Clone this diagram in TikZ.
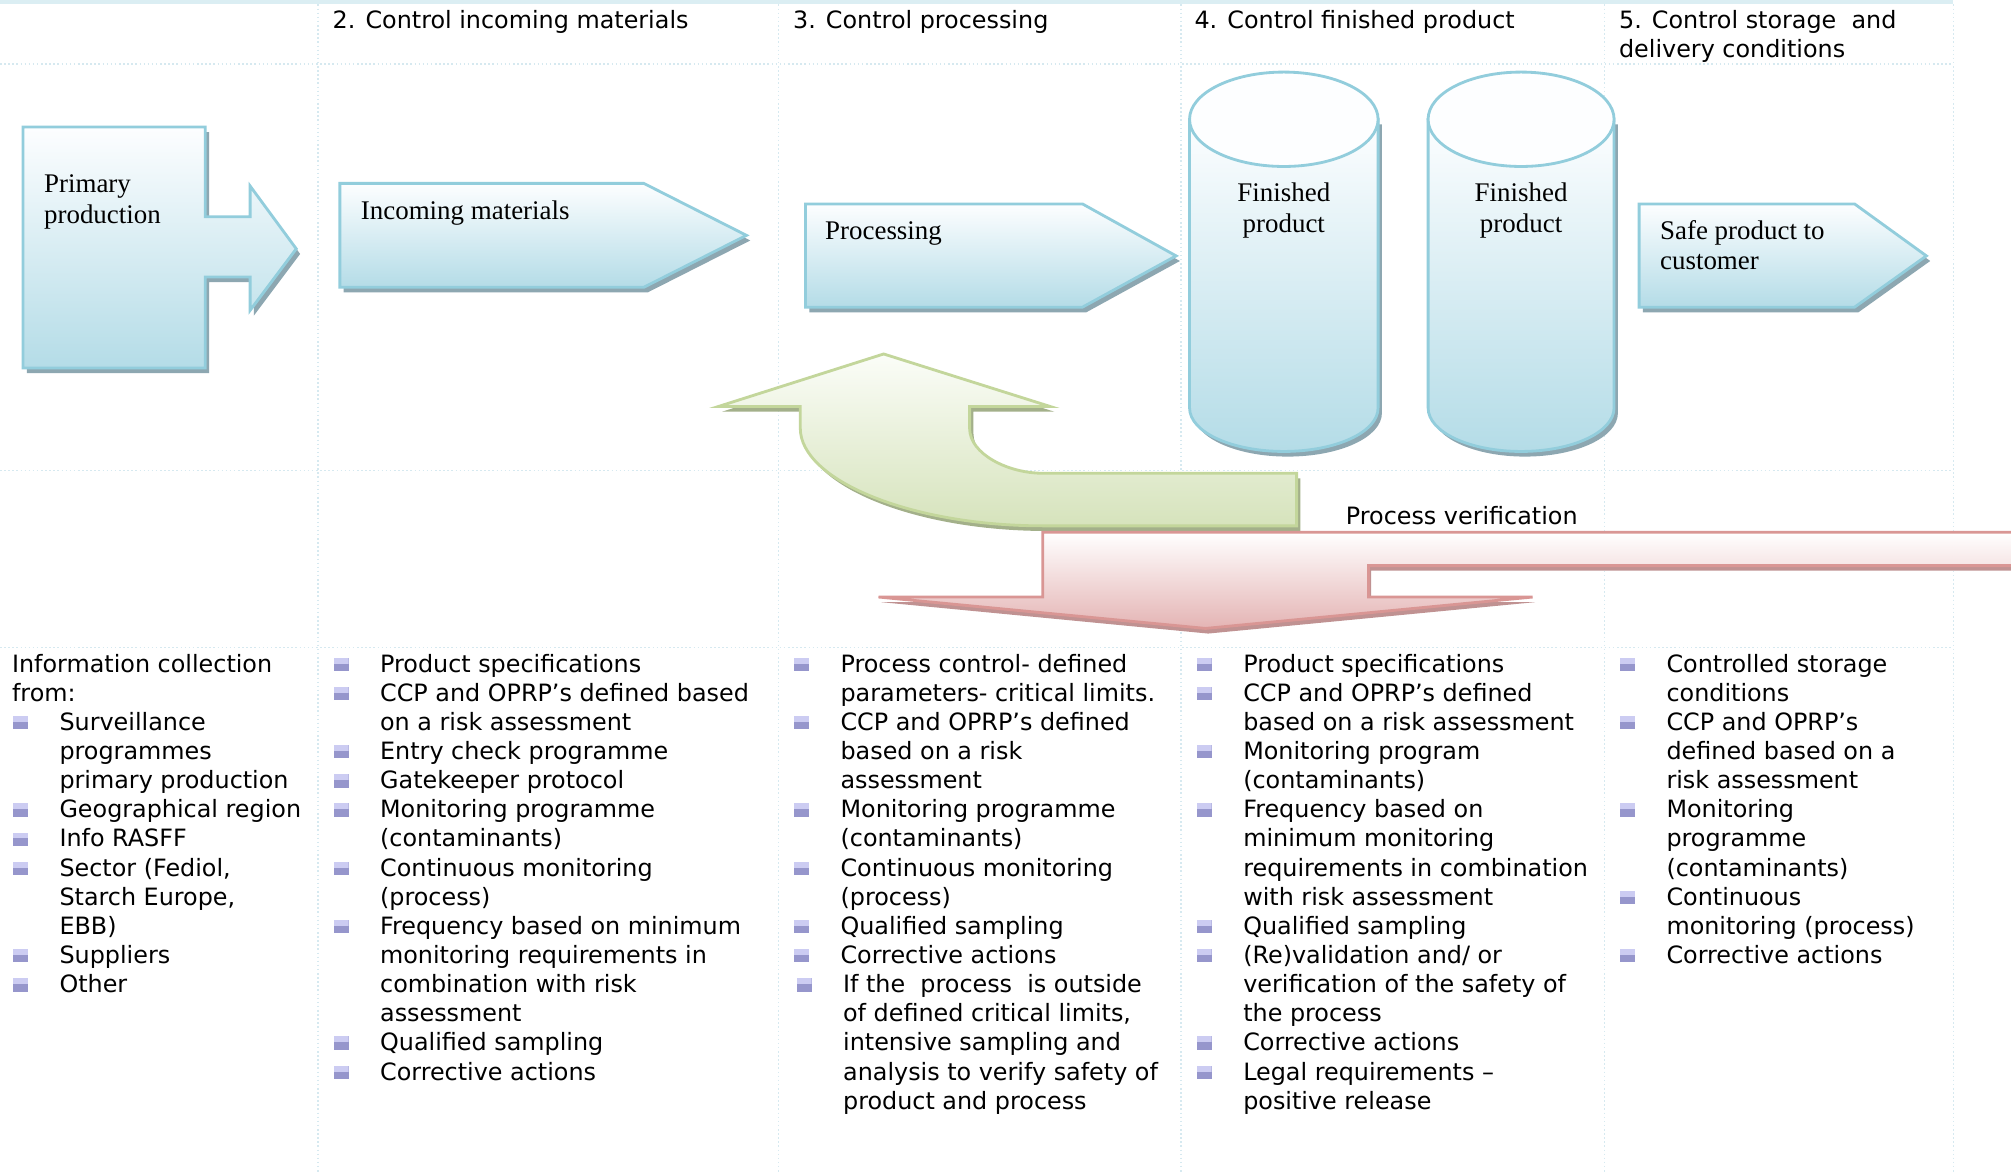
\documentclass[tikz,border=0pt]{standalone}
\usepackage{fontspec}
\setmainfont{Liberation Serif}
\setsansfont{DejaVu Sans}
\definecolor{bbord}{RGB}{146,205,220}
\definecolor{bfillT}{RGB}{253,254,255}
\definecolor{bfillB}{RGB}{180,220,231}
\definecolor{bshadow}{RGB}{141,167,177}
\definecolor{gbord}{RGB}{195,214,155}
\definecolor{gfillT}{RGB}{251,253,248}
\definecolor{gfillB}{RGB}{214,227,188}
\definecolor{gshadow}{RGB}{163,176,138}
\definecolor{rbord}{RGB}{217,150,148}
\definecolor{rfillB}{RGB}{228,180,180}
\definecolor{rshadow}{RGB}{192,146,146}
\definecolor{gridc}{RGB}{214,233,240}
\definecolor{topband}{RGB}{219,238,243}
\definecolor{bulT}{RGB}{204,204,242}
\definecolor{bulB}{RGB}{150,150,204}
\newcommand\colitems[5]{% x, name, start line, list, bullet lines
  \foreach \t [count=\i] in {#4}{%
    \pgfmathsetmacro\ln{\i+#3-1}%
    \node[lst] (#2-\i) at (#1,{524+22.72*(\ln-1)}) {\t};}%
  \foreach \j in {#5}{\node[bul] (#2-b\j) at ({#1-30},{518+22.72*(\j-1)}) {};}}
\newcommand\cylinder[3]{% cx, rx, name
  \fill[bshadow,shift={(3,4)}] ({#1-#2},93) -- ({#1-#2},318) .. controls ({#1-#2},337) and ({#1-0.552*#2},352) .. (#1,352) .. controls ({#1+0.552*#2},352) and ({#1+#2},337) .. ({#1+#2},318) -- ({#1+#2},93) -- cycle;
  \draw[bshape] ({#1-#2},93) -- ({#1-#2},318) .. controls ({#1-#2},337) and ({#1-0.552*#2},352) .. (#1,352) .. controls ({#1+0.552*#2},352) and ({#1+#2},337) .. ({#1+#2},318) -- ({#1+#2},93) -- cycle;
  \draw[draw=bbord,line width=1.1pt,fill=bfillT] (#1,93) ellipse [x radius={#2*0.5pt}, y radius=18.4pt];
  \node[ser,anchor=base] (#3a) at (#1,157) {Finished};
  \node[ser,anchor=base] (#3b) at (#1,181.5) {product};}
\begin{document}
\begin{tikzpicture}[x=0.5pt,y=-0.5pt,
  gridl/.style={draw=gridc,line width=0.6pt,densely dotted},
  lst/.style={font=\sffamily\fontsize{9.3}{11}\selectfont,anchor=base west,inner sep=0pt},
  ser/.style={font=\rmfamily\fontsize{10.5}{12}\selectfont,anchor=base west,inner sep=0pt},
  bul/.style={inner sep=0pt,minimum width=5.8pt,minimum height=5.2pt,fill=bulB,
    path picture={\fill[bulT] (path picture bounding box.north west) rectangle ([yshift=-2.3pt]path picture bounding box.north east);}},
  bshape/.style={draw=bbord,line width=1.1pt,top color=bfillT,bottom color=bfillB,line join=miter},
  gshape/.style={draw=gbord,line width=1.1pt,top color=gfillT,bottom color=gfillB,line join=miter},
  rshape/.style={draw=rbord,line width=1.1pt,top color=white,bottom color=rfillB,line join=miter}]
\useasboundingbox (0,0) rectangle (1568,915);
\fill[white] (0,0) rectangle (1568,915);
% grid
\fill[topband] (0,0) rectangle (1523,3.5);
\foreach \x in {248,607,921,1251,1523} \draw[gridl] (\x,3.5) -- (\x,915);
\foreach \y in {50,367,505} \draw[gridl] (0,\y) -- (1523,\y);
% headers
\node[lst] (h2) at (259,22) {2. Control incoming materials};
\node[lst] (h3) at (618,22) {3. Control processing};
\node[lst] (h4) at (931,22) {4. Control finished product};
\node[lst] (h5a) at (1262,22) {5. Control storage\ \ and};
\node[lst] (h5b) at (1262,44.5) {delivery conditions};
% primary production
\def\PPpath{(18,99) -- (160,99) -- (160,169) -- (195,169) -- (195,145) -- (231,194) -- (195,242) -- (195,216) -- (160,216) -- (160,287) -- (18,287) -- cycle}
\fill[bshadow,shift={(3,4)}] \PPpath;
\draw[bshape] \PPpath;
\node[ser] (pp1) at (34,150) {Primary};
\node[ser] (pp2) at (34,174) {production};
% incoming materials
\def\IMpath{(265,143) -- (502,143) -- (582,183.5) -- (502,224) -- (265,224) -- cycle}
\fill[bshadow,shift={(3,4)}] \IMpath;
\draw[bshape] \IMpath;
\node[ser] (im) at (281,171) {Incoming materials};
% processing
\def\PRpath{(628,159) -- (844,159) -- (917,199.5) -- (844,239.5) -- (628,239.5) -- cycle}
\fill[bshadow,shift={(3,4)}] \PRpath;
\draw[bshape] \PRpath;
\node[ser] (pr) at (643,187) {Processing};
% cylinders
\cylinder{1001}{73.5}{fp1}
\cylinder{1186}{72.5}{fp2}
% safe product
\def\SPpath{(1278,159) -- (1446,159) -- (1502,199.5) -- (1446,239.5) -- (1278,239.5) -- cycle}
\fill[bshadow,shift={(3,4)}] \SPpath;
\draw[bshape] \SPpath;
\node[ser] (sp1) at (1294,186.5) {Safe product to};
\node[ser] (sp2) at (1294,210) {customer};
% green u-turn arrow
\def\Gpath{(689,276) -- (819,317) -- (756,317) -- (756,334) .. controls (756,354) and (786,369) .. (813,369) -- (1011,369) -- (1011,410) -- (813,410) .. controls (709,410) and (624,374) .. (624,334) -- (624,317) -- (560,317) -- cycle}
\fill[gshadow,shift={(3,4)}] \Gpath;
\draw[gshape] \Gpath;
% red bent arrow
\begin{scope}
\clip (0,0) rectangle (1568,915);
\def\Rpath{(1620,415) -- (813,415) -- (813,465.5) -- (685,465.5) -- (940,490) -- (1195,465.5) -- (1067,465.5) -- (1067,441) -- (1620,441) -- cycle}
\fill[rshadow,shift={(2,4)}] \Rpath;
\draw[rshape] \Rpath;
\end{scope}
\node[lst] (pv) at (1049,409) {Process verification};
% column 1
\node[lst] (c1-i1) at (9,524) {Information collection};
\node[lst] (c1-i2) at (9,546.7) {from:};
\colitems{46}{c1}{3}{{Surveillance},{programmes},{primary production},{Geographical region},{Info RASFF},{Sector (Fediol,},{Starch Europe,},{EBB)},{Suppliers},{Other}}{3,6,7,8,11,12}
% column 2
\colitems{296}{c2}{1}{{Product specifications},{CCP and OPRP’s defined based},{on a risk assessment},{Entry check programme},{Gatekeeper protocol},{Monitoring programme},{(contaminants)},{Continuous monitoring},{(process)},{Frequency based on minimum},{monitoring requirements in},{combination with risk},{assessment},{Qualified sampling},{Corrective actions}}{1,2,4,5,6,8,10,14,15}
% column 3
\colitems{655}{c3}{1}{{Process control- defined},{parameters- critical limits.},{CCP and OPRP’s defined},{based on a risk},{assessment},{Monitoring programme},{(contaminants)},{Continuous monitoring},{(process)},{Qualified sampling},{Corrective actions}}{1,3,6,8,10,11}
\colitems{657}{c3x}{12}{{If the\ \ process\ \ is outside},{of defined critical limits,},{intensive sampling and},{analysis to verify safety of},{product and process}}{12}
% column 4
\colitems{969}{c4}{1}{{Product specifications},{CCP and OPRP’s defined},{based on a risk assessment},{Monitoring program},{(contaminants)},{Frequency based on},{minimum monitoring},{requirements in combination},{with risk assessment},{Qualified sampling},{(Re)validation and/ or},{verification of the safety of},{the process},{Corrective actions},{Legal requirements –},{positive release}}{1,2,4,6,10,11,14,15}
% column 5
\colitems{1299}{c5}{1}{{Controlled storage},{conditions},{CCP and OPRP’s},{defined based on a},{risk assessment},{Monitoring},{programme},{(contaminants)},{Continuous},{monitoring (process)},{Corrective actions}}{1,3,6,9,11}
\end{tikzpicture}
\end{document}
